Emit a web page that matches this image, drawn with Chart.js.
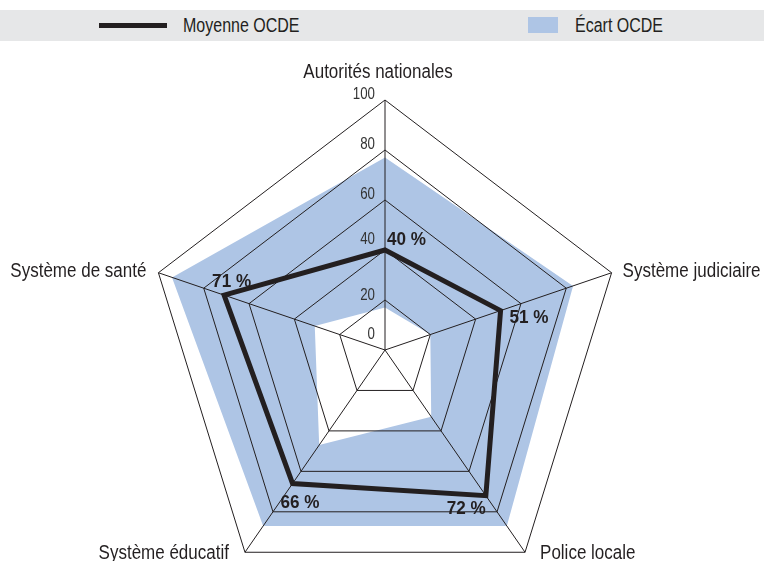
<!DOCTYPE html>
<html>
<head>
<meta charset="utf-8">
<script src="https://cdn.jsdelivr.net/npm/chart.js@4.4.1/dist/chart.umd.min.js"></script>
<style>
  body { margin: 0; background: #fff; }
  #wrap { position: relative; width: 764px; height: 561px; overflow: hidden; }
  #legend { position: absolute; left: 0; top: 10px; width: 764px; height: 31px; background: #e6e7e8;
            font-family: 'Liberation Sans', Arial, sans-serif; font-size: 20px; color: #231f20; }
  #legend .line { position: absolute; left: 99px; top: 13px; width: 68px; height: 5px; background: #231f20; }
  #legend .box { position: absolute; left: 528px; top: 7px; width: 30px; height: 16px; background: #aec5e5; }
  #legend span { position: absolute; top: 4px; line-height: 23px; white-space: nowrap;
                 transform: scaleX(0.8); transform-origin: 0 50%; }
  canvas { position: absolute; left: 0; top: 0; }
</style>
</head>
<body>
<div id="wrap">
  <canvas id="radarChart" width="764" height="561"></canvas>
  <div id="legend">
    <div class="line"></div><span style="left:183px">Moyenne OCDE</span>
    <div class="box"></div><span style="left:575px">Écart OCDE</span>
  </div>
</div>
<script>
var categories = ['Autorités nationales', 'Système judiciaire', 'Police locale', 'Système éducatif', 'Système de santé'];
var moyenne = [40, 51, 72, 66, 71];
var ecartMax = [77, 83, 87, 87, 94];
var ecartMin = [17, 20, 33, 47, 31];
var tickValues = [0, 20, 40, 60, 80, 100];

var FONT = "'Liberation Sans', Arial, sans-serif";
var INK = '#231f20';
var SQUASH = 0.953;

// where the text goes relative to the spoke end / the point
var axisLabelPos = [
  {dx: -7, dy: -28, align: 'center'},
  {dx: 11, dy: -1, align: 'left'},
  {dx: 15, dy: 1, align: 'left'},
  {dx: -16, dy: 1, align: 'right'},
  {dx: -12, dy: -1, align: 'right'}
];
var valueLabelPos = [
  {dx: 2, dy: -10, align: 'left'},
  {dx: 9, dy: 7, align: 'left'},
  {dx: 0, dy: 13, align: 'right'},
  {dx: -12, dy: 19, align: 'left'},
  {dx: -12, dy: -13, align: 'left'}
];
var tickOffsets = [-15, -4, -10, -5, -5, -5];

// narrow text, the original uses a condensed face
function narrowText(ctx, text, x, y, squeeze) {
  var w = ctx.measureText(text).width;
  ctx.fillText(text, x, y, w * squeeze);
}

var textPlugin = {
  id: 'textPlugin',
  afterDraw: function(chart) {
    var ctx = chart.ctx;
    var scale = chart.scales.r;
    ctx.save();
    ctx.textBaseline = 'middle';
    ctx.fillStyle = INK;

    // axis names
    ctx.font = '20px ' + FONT;
    categories.forEach(function(name, i) {
      var p = scale.getPointPosition(i, scale.drawingArea);
      ctx.textAlign = axisLabelPos[i].align;
      narrowText(ctx, name, p.x + axisLabelPos[i].dx, p.y + axisLabelPos[i].dy, 0.85);
    });

    // tick labels on the left of the top spoke
    ctx.font = '16px ' + FONT;
    ctx.fillStyle = '#333';
    ctx.textAlign = 'right';
    tickValues.forEach(function(v, i) {
      var d = scale.getDistanceFromCenterForValue(v);
      narrowText(ctx, String(v), scale.xCenter - 10, scale.yCenter - d + tickOffsets[i], 0.83);
    });

    // values of the mean
    ctx.font = 'bold 19px ' + FONT;
    ctx.fillStyle = INK;
    var meta = chart.getDatasetMeta(0);
    meta.data.forEach(function(pt, i) {
      ctx.textAlign = valueLabelPos[i].align;
      narrowText(ctx, moyenne[i] + ' %', pt.x + valueLabelPos[i].dx, pt.y + valueLabelPos[i].dy, 0.9);
    });
    ctx.restore();
  }
};

var radar = new Chart(document.getElementById('radarChart'), {
  type: 'radar',
  data: {
    labels: categories,
    datasets: [{
      label: 'Moyenne OCDE',
      data: moyenne,
      borderColor: INK,
      borderWidth: 5,
      borderJoinStyle: 'miter',
      fill: false,
      pointRadius: 0,
      order: 0
    }, {
      label: 'Écart OCDE min',
      data: ecartMin,
      borderWidth: 0,
      backgroundColor: '#ffffff',
      fill: 'origin',
      pointRadius: 0,
      order: 1
    }, {
      label: 'Écart OCDE',
      data: ecartMax,
      borderWidth: 0,
      backgroundColor: '#aec5e5',
      fill: 'origin',
      pointRadius: 0,
      order: 2
    }]
  },
  options: {
    responsive: false,
    animation: false,
    plugins: {
      legend: { display: false },
      tooltip: { enabled: false }
    },
    elements: { line: { tension: 0 } },
    scales: {
      r: {
        min: 0,
        max: 100,
        ticks: { stepSize: 20, display: false },
        pointLabels: { display: false },
        grid: { color: INK, lineWidth: 1, z: 1 },
        angleLines: { color: INK, lineWidth: 1 },
        afterFit: function(scale) {
          scale.xCenter = 385;
          scale.yCenter = 350;
          scale.drawingArea = 250;
          if (!scale._squashed) {
            var base = scale.getPointPosition;
            scale.getPointPosition = function(i, d) {
              var p = base.call(this, i, d);
              return { x: this.xCenter + (p.x - this.xCenter) * SQUASH, y: p.y, angle: p.angle };
            };
            scale._squashed = true;
          }
        }
      }
    }
  },
  plugins: [textPlugin]
});
</script>
</body>
</html>
